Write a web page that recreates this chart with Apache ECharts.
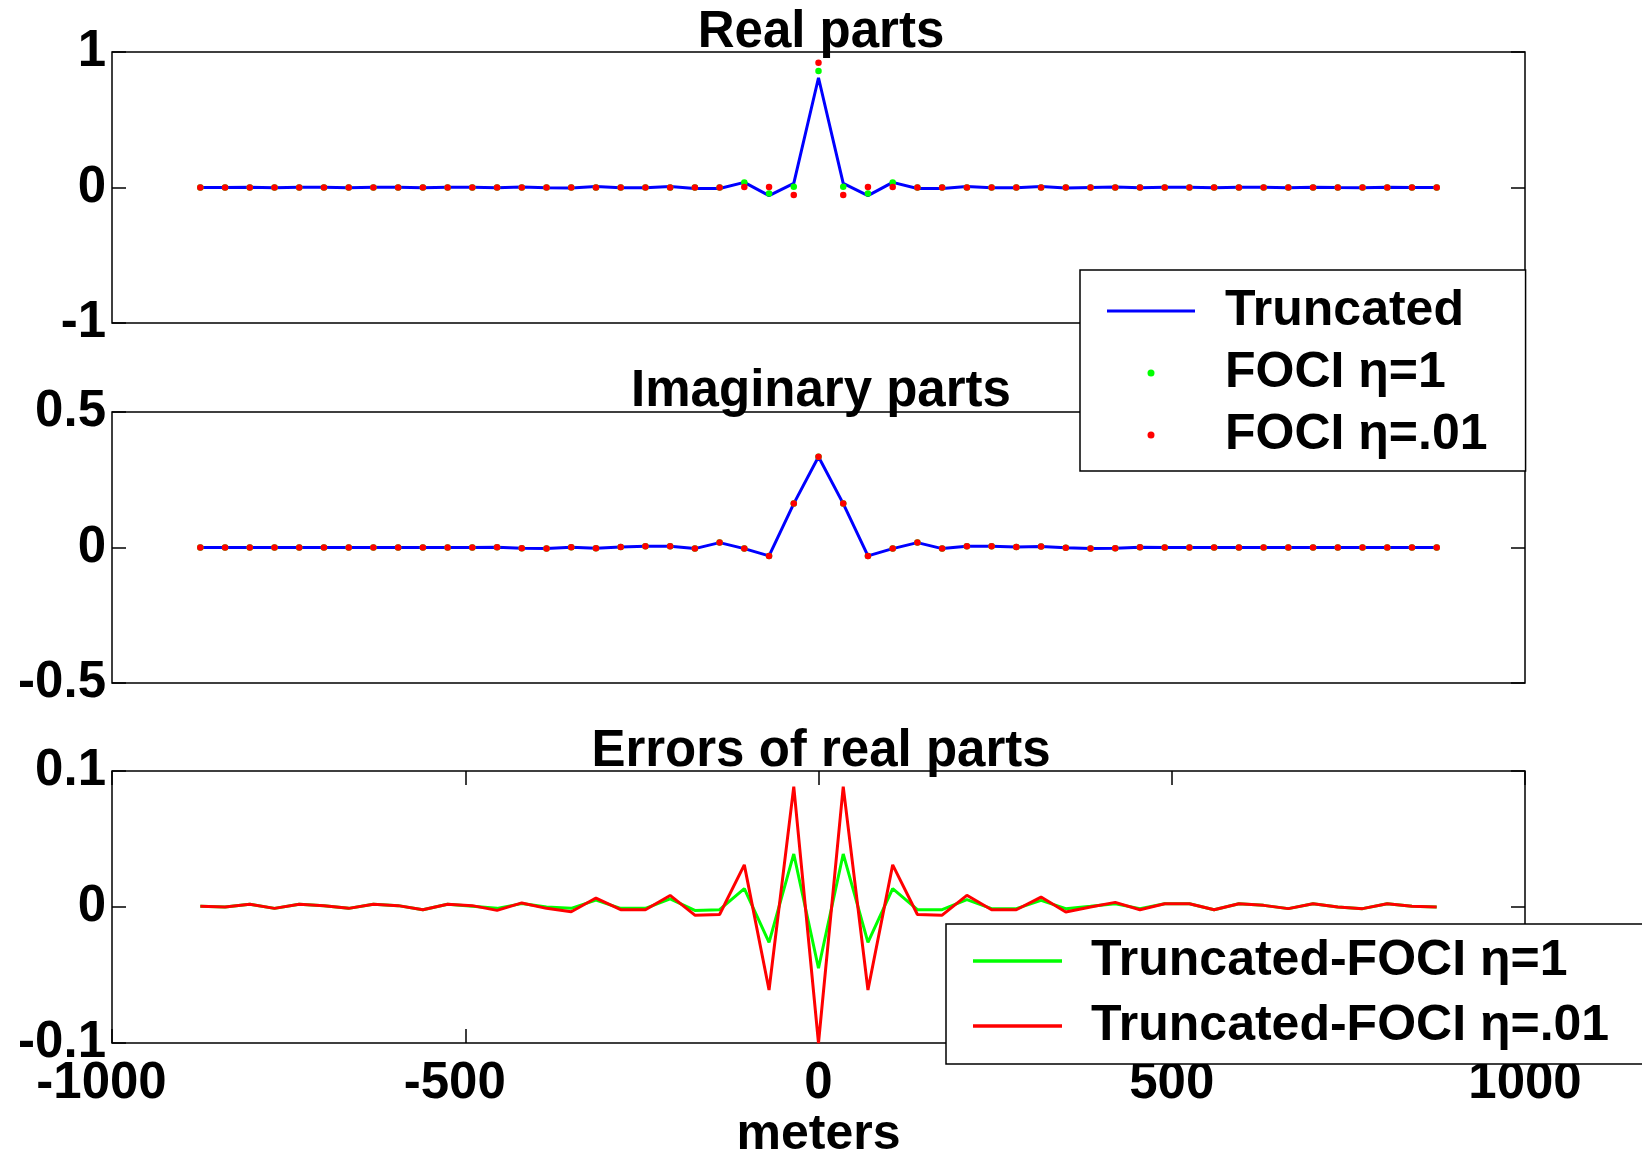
<!DOCTYPE html>
<html>
<head>
<meta charset="utf-8">
<title>Truncated vs FOCI kernels</title>
<script src="https://cdn.jsdelivr.net/npm/echarts@6/dist/echarts.min.js"></script>
<style>
  html, body { margin: 0; padding: 0; background: #fff; }
  #chart { width: 1642px; height: 1154px; }
</style>
</head>
<body>
<div id="chart"></div>
<script>
// Sample positions (meters)
const meters = [-875, -840, -805, -770, -735, -700, -665, -630, -595, -560, -525, -490, -455, -420, -385, -350, -315, -280, -245, -210, -175, -140, -105, -70, -35,
  0, 35, 70, 105, 140, 175, 210, 245, 280, 315, 350, 385, 420, 455, 490, 525, 560, 595, 630, 665, 700, 735, 770, 805, 840, 875];

// Real parts
const realTruncated = [0.0005, 0, 0.002, -0.001, 0.002, 0.001, -0.001, 0.002, 0.001, -0.002, 0.002, 0.001, -0.0025, 0.003, -0.001, -0.0035, 0.0066, -0.002, -0.002, 0.008, -0.007, -0.007, 0.038, -0.06, 0.03,
  0.81, 0.03, -0.06, 0.038, -0.007, -0.007, 0.008, -0.002, -0.002, 0.0073, -0.0037, 0, 0.0034, -0.002, 0.0024, 0.0024, -0.002, 0.0024, 0.0012, -0.0012, 0.0024, 0, -0.0012, 0.0024, 0.0005, 0];
const realFociEta1 = [0, 0, 0, 0, 0, 0, 0, 0, 0, 0, 0, 0, 0, 0, 0, 0, 0, 0, 0, 0, 0, 0, 0.036, -0.044, 0.005,
  0.86, 0.005, -0.044, 0.036, 0, 0, 0, 0, 0, 0, 0, 0, 0, 0, 0, 0, 0, 0, 0, 0, 0, 0, 0, 0, 0, 0];
const realFociEta001 = [0, 0, 0, 0, 0, 0, 0, 0, 0, 0, 0, 0, 0, 0, 0, 0, 0, 0, 0, 0, 0, 0, 0.004, 0.004, -0.056,
  0.92, -0.056, 0.004, 0.004, 0, 0, 0, 0, 0, 0, 0, 0, 0, 0, 0, 0, 0, 0, 0, 0, 0, 0, 0, 0, 0, 0];

// Imaginary parts
const imagTruncated = [0, 0, 0, 0, 0, 0, 0, 0, 0, 0, 0, 0, 0.001, -0.003, -0.004, 0.001, -0.003, 0.002, 0.005, 0.005, -0.004, 0.018, -0.004, -0.031, 0.162,
  0.335, 0.162, -0.031, -0.004, 0.018, -0.004, 0.005, 0.005, 0.002, 0.004, -0.001, -0.004, -0.003, 0.001, 0, 0, 0, 0, 0, 0, 0, 0, 0, 0, 0, 0];
const imagFociEta1 = [0, 0, 0, 0, 0, 0, 0, 0, 0, 0, 0, 0, 0.001, -0.003, -0.004, 0.001, -0.003, 0.002, 0.005, 0.005, -0.004, 0.018, -0.004, -0.031, 0.162,
  0.335, 0.162, -0.031, -0.004, 0.018, -0.004, 0.005, 0.005, 0.002, 0.004, -0.001, -0.004, -0.003, 0.001, 0, 0, 0, 0, 0, 0, 0, 0, 0, 0, 0, 0];
const imagFociEta001 = [0, 0, 0, 0, 0, 0, 0, 0, 0, 0, 0, 0, 0.001, -0.003, -0.004, 0.001, -0.003, 0.002, 0.005, 0.005, -0.004, 0.018, -0.004, -0.031, 0.162,
  0.335, 0.162, -0.031, -0.004, 0.018, -0.004, 0.005, 0.005, 0.002, 0.004, -0.001, -0.004, -0.003, 0.001, 0, 0, 0, 0, 0, 0, 0, 0, 0, 0, 0, 0];

// Errors of real parts (Truncated - FOCI)
const errEta1 = [0.0005, 0, 0.002, -0.001, 0.002, 0.001, -0.001, 0.002, 0.001, -0.002, 0.002, 0.0005, -0.001, 0.0025, 0, -0.001, 0.005, -0.001, -0.001, 0.006, -0.0025, -0.002, 0.0135, -0.026, 0.039,
  -0.045, 0.039, -0.026, 0.0135, -0.002, -0.002, 0.0054, -0.0012, -0.0012, 0.0049, -0.0012, 0.0005, 0.0024, -0.0012, 0.0024, 0.0024, -0.002, 0.0024, 0.0012, -0.0012, 0.0024, 0, -0.0012, 0.0024, 0.0005, 0];
const errEta001 = [0.0005, 0, 0.002, -0.001, 0.002, 0.001, -0.001, 0.002, 0.001, -0.002, 0.002, 0.001, -0.0025, 0.003, -0.001, -0.0035, 0.0066, -0.002, -0.002, 0.0085, -0.006, -0.0055, 0.031, -0.061, 0.0885,
  -0.1, 0.0885, -0.061, 0.031, -0.0055, -0.006, 0.0086, -0.002, -0.002, 0.0073, -0.0037, 0, 0.0034, -0.002, 0.0024, 0.0024, -0.002, 0.0024, 0.0012, -0.0012, 0.0024, 0, -0.0012, 0.0024, 0.0005, 0];

// Axis ranges and tick steps
const xRange = [-1000, 1000, 500];
const realRange = [-1, 1, 1];
const imagRange = [-0.5, 0.5, 0.5];
const errRange = [-0.1, 0.1, 0.1];

const FONT = 'Liberation Sans, Arial, Helvetica, sans-serif';
const BLUE = '#0000ff', GREEN = '#00ff00', RED = '#ff0000';

const pairs = (ys) => meters.map((x, i) => [x, ys[i]]);

const gridBase = {
  left: 112, right: 117, show: true, borderColor: '#000', borderWidth: 1.5,
  backgroundColor: 'transparent', containLabel: false, outerBoundsMode: 'none'
};

const tickStyle = { show: true, inside: true, length: 14, lineStyle: { color: '#000', width: 1.5 } };
const labelStyle = { color: '#000', fontFamily: FONT, fontWeight: 'bold', fontSize: 51 };
const plainNumber = (v) => String(v);
// negative x labels sit slightly left of their tick, number body centred
const xTickLabel = (v) => (v < 0 ? '{neg|' + v + '}' : '{pos|' + v + '}');

function hiddenX(gridIndex) {
  return {
    gridIndex, type: 'value', show: false,
    min: xRange[0], max: xRange[1], interval: xRange[2],
    axisLine: { show: false, onZero: false }, splitLine: { show: false }
  };
}

function yPair(gridIndex, range) {
  const base = {
    gridIndex, type: 'value', min: range[0], max: range[1], interval: range[2],
    axisLine: { show: false, onZero: false }, splitLine: { show: false }, axisTick: tickStyle
  };
  return [
    Object.assign({}, base, { position: 'left', axisLabel: Object.assign({ margin: 6, formatter: plainNumber }, labelStyle) }),
    Object.assign({}, base, { position: 'right', axisLabel: { show: false } })
  ];
}

function titleAt(text, top) {
  return {
    text, left: 'center', top, padding: 0,
    textStyle: { color: '#000', fontFamily: FONT, fontWeight: 'bold', fontSize: 51 }
  };
}

const legendText = (gap) => ({
  color: '#000', fontFamily: FONT, fontWeight: 'bold', fontSize: 50, padding: [0, 0, 0, gap]
});

const option = {
  animation: false,
  backgroundColor: '#fff',
  title: [
    titleAt('Real parts', 7),
    titleAt('Imaginary parts', 366),
    titleAt('Errors of real parts', 726)
  ],
  legend: [
    {
      orient: 'vertical', left: 1080, top: 270, selectedMode: false,
      itemWidth: 88, itemHeight: 7, itemGap: 12,
      padding: [16, 38, 11, 27],
      backgroundColor: '#fff', borderColor: '#000', borderWidth: 1.5, borderRadius: 0,
      textStyle: legendText(25),
      data: [
        { name: 'Truncated', icon: 'path://M0,0L88,0L88,3L0,3Z', itemStyle: { color: BLUE, borderWidth: 0 } },
        { name: 'FOCI η=1', icon: 'circle', itemStyle: { color: GREEN, borderWidth: 0 } },
        { name: 'FOCI η=.01', icon: 'circle', itemStyle: { color: RED, borderWidth: 0 } }
      ]
    },
    {
      orient: 'vertical', left: 946, top: 924, selectedMode: false,
      itemWidth: 89, itemHeight: 3.5, itemGap: 15, icon: 'rect',
      padding: [12, 90, 13, 27],
      backgroundColor: '#fff', borderColor: '#000', borderWidth: 1.5, borderRadius: 0,
      textStyle: legendText(24),
      data: [
        { name: 'Truncated-FOCI η=1', itemStyle: { color: GREEN, borderWidth: 0 } },
        { name: 'Truncated-FOCI η=.01', itemStyle: { color: RED, borderWidth: 0 } }
      ]
    }
  ],
  grid: [
    Object.assign({}, gridBase, { top: 52, height: 271 }),
    Object.assign({}, gridBase, { top: 412, height: 271 }),
    Object.assign({}, gridBase, { top: 771, height: 272 })
  ],
  xAxis: [
    hiddenX(0),
    hiddenX(1),
    {
      gridIndex: 2, type: 'value', position: 'bottom',
      min: xRange[0], max: xRange[1], interval: xRange[2],
      axisLine: { show: false, onZero: false }, splitLine: { show: false },
      axisTick: tickStyle,
      axisLabel: Object.assign({
        margin: 15, formatter: xTickLabel,
        rich: {
          neg: Object.assign({ padding: [0, 21, 0, 0] }, labelStyle),
          pos: Object.assign({}, labelStyle)
        }
      }, labelStyle),
      name: 'meters', nameLocation: 'middle', nameGap: 67,
      nameTextStyle: { color: '#000', fontFamily: FONT, fontWeight: 'bold', fontSize: 50 }
    },
    {
      gridIndex: 2, type: 'value', position: 'top',
      min: xRange[0], max: xRange[1], interval: xRange[2],
      axisLine: { show: false, onZero: false }, splitLine: { show: false },
      axisTick: tickStyle, axisLabel: { show: false }
    }
  ],
  yAxis: [].concat(yPair(0, realRange), yPair(1, imagRange), yPair(2, errRange)),
  series: [
    {
      type: 'line', name: 'Truncated', xAxisIndex: 0, yAxisIndex: 0, data: pairs(realTruncated),
      symbol: 'none', lineStyle: { color: BLUE, width: 3 }, itemStyle: { color: BLUE }, z: 2
    },
    {
      type: 'scatter', name: 'FOCI η=1', xAxisIndex: 0, yAxisIndex: 0, data: pairs(realFociEta1),
      symbolSize: 6.5, itemStyle: { color: GREEN, opacity: 1 }, z: 3
    },
    {
      type: 'scatter', name: 'FOCI η=.01', xAxisIndex: 0, yAxisIndex: 0, data: pairs(realFociEta001),
      symbolSize: 6.5, itemStyle: { color: RED, opacity: 1 }, z: 4
    },
    {
      type: 'line', name: 'Truncated', xAxisIndex: 1, yAxisIndex: 2, data: pairs(imagTruncated),
      symbol: 'none', lineStyle: { color: BLUE, width: 3 }, itemStyle: { color: BLUE }, z: 2
    },
    {
      type: 'scatter', name: 'FOCI η=1', xAxisIndex: 1, yAxisIndex: 2, data: pairs(imagFociEta1),
      symbolSize: 6.5, itemStyle: { color: GREEN, opacity: 1 }, z: 3
    },
    {
      type: 'scatter', name: 'FOCI η=.01', xAxisIndex: 1, yAxisIndex: 2, data: pairs(imagFociEta001),
      symbolSize: 6.5, itemStyle: { color: RED, opacity: 1 }, z: 4
    },
    {
      type: 'line', name: 'Truncated-FOCI η=1', xAxisIndex: 2, yAxisIndex: 4, data: pairs(errEta1),
      symbol: 'none', lineStyle: { color: GREEN, width: 3 }, itemStyle: { color: GREEN }, z: 2
    },
    {
      type: 'line', name: 'Truncated-FOCI η=.01', xAxisIndex: 2, yAxisIndex: 4, data: pairs(errEta001),
      symbol: 'none', lineStyle: { color: RED, width: 3 }, itemStyle: { color: RED }, z: 3
    }
  ]
};

const chart = echarts.init(document.getElementById('chart'), null, { renderer: 'canvas' });
chart.setOption(option);
</script>
</body>
</html>
